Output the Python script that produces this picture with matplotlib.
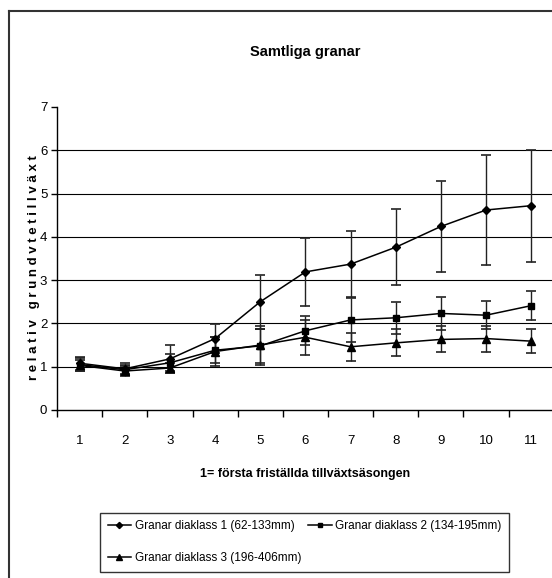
import matplotlib
matplotlib.use("Agg")
import matplotlib.pyplot as plt
from matplotlib.lines import Line2D

plt.rcParams['font.family'] = ['Liberation Sans Narrow', 'Liberation Sans', 'DejaVu Sans']

# data
seasons = [1, 2, 3, 4, 5, 6, 7, 8, 9, 10, 11]
klass1 = [1.08, 0.95, 1.18, 1.65, 2.50, 3.19, 3.37, 3.76, 4.24, 4.62, 4.72]
klass1_err = [0.15, 0.13, 0.32, 0.33, 0.62, 0.78, 0.77, 0.88, 1.05, 1.26, 1.29]
klass2 = [1.05, 0.93, 1.09, 1.38, 1.48, 1.83, 2.08, 2.13, 2.23, 2.19, 2.41]
klass2_err = [0.15, 0.12, 0.20, 0.30, 0.40, 0.33, 0.50, 0.37, 0.38, 0.32, 0.34]
klass3 = [1.03, 0.90, 0.97, 1.35, 1.50, 1.68, 1.46, 1.55, 1.63, 1.65, 1.59]
klass3_err = [0.12, 0.12, 0.12, 0.33, 0.45, 0.41, 0.32, 0.31, 0.30, 0.30, 0.28]
labels = ['Granar diaklass 1 (62-133mm)',
          'Granar diaklass 2 (134-195mm)',
          'Granar diaklass 3 (196-406mm)']
y_ticks = [0, 1, 2, 3, 4, 5, 6, 7]

fig = plt.figure(figsize=(5.52, 5.78), dpi=100)
ax = fig.add_axes([0.1033, 0.2907, 0.9, 0.5242])

# gridlines
for v in y_ticks[1:-1]:
    ax.axhline(v, color='black', lw=0.8, zorder=0)

series = [(klass1, klass1_err, 'D', 4.5),
          (klass2, klass2_err, 's', 5),
          (klass3, klass3_err, '^', 5.5)]
handles = []
for (vals, err, mk, ms), lab in zip(series, labels):
    ax.errorbar(seasons, vals, yerr=err, fmt='none', ecolor='#222222',
                elinewidth=1.0, capsize=3.5, capthick=1.2, zorder=2)
    h, = ax.plot(seasons, vals, color='black', lw=1.1, marker=mk, ms=ms,
                 mfc='black', mec='black', zorder=3, label=lab)
    handles.append(h)

ax.set_xlim(0.5, 11.5)
ax.set_ylim(0, 7)
ax.set_yticks(y_ticks)
ax.set_xticks(seasons)
ax.set_xticks([s + 0.5 for s in [0] + seasons], minor=True)
ax.tick_params(axis='x', which='major', length=0, labelsize=9.5, pad=18)
ax.tick_params(axis='x', which='minor', length=5, width=1, direction='out')
ax.tick_params(axis='y', length=4, width=1, labelsize=9.5, pad=3)
for side in ['top', 'right']:
    ax.spines[side].set_visible(False)
for side in ['left', 'bottom']:
    ax.spines[side].set_linewidth(1)

ax.set_title('Samtliga granar', fontsize=10.5, fontweight='bold', pad=37)
ax.set_xlabel('1= första friställda tillväxtsäsongen', fontsize=9,
              fontweight='bold', labelpad=15)
fig.text(0.062, 0.537, 'r e l a t i v   g r u n d v t e t i l l v ä x t',
         rotation=90, ha='center', va='center', fontsize=9.5, fontweight='bold')

# legend, row-major order
leg = fig.legend([handles[0], handles[2], handles[1]],
                 [labels[0], labels[2], labels[1]],
                 ncol=2, loc='center', bbox_to_anchor=(0.552, 0.062),
                 fontsize=8.5, frameon=True, fancybox=False, edgecolor='black',
                 handlelength=2.0, handletextpad=0.3, columnspacing=0.6,
                 borderpad=0.6, labelspacing=1.75, markerscale=0.7)
leg.get_frame().set_linewidth(1)

# outer chart border (left and top edges visible)
fig.add_artist(Line2D([0.0163, 0.0163], [0, 0.9817], color='#333333', lw=1.5))
fig.add_artist(Line2D([0.0163, 1.0], [0.9817, 0.9817], color='#333333', lw=1.5))

fig.savefig('out.png', dpi=100)
